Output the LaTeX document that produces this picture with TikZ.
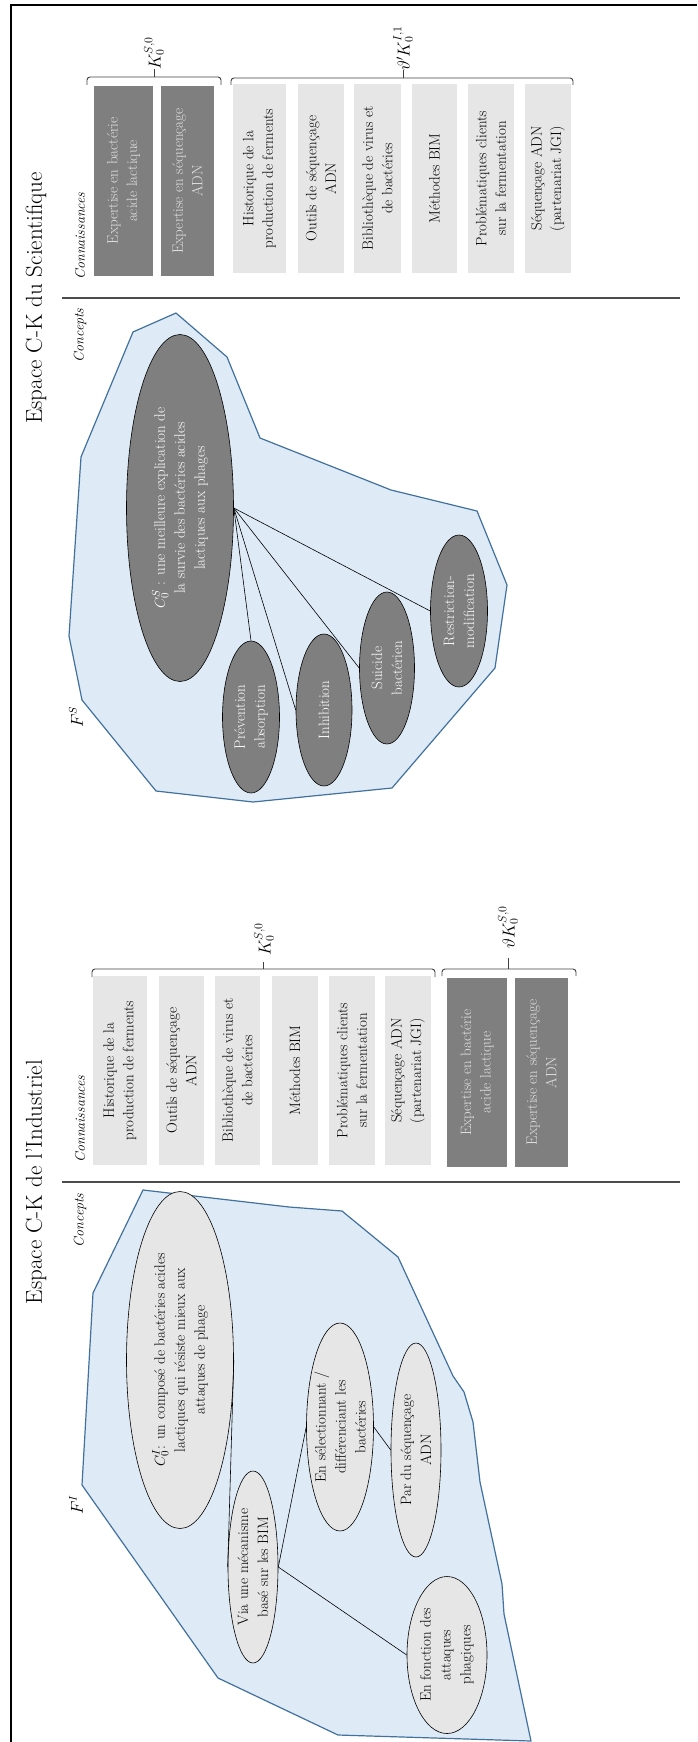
\documentclass[tikz,border=0pt]{standalone}
\usetikzlibrary{shapes.geometric}
\definecolor{fondbleu}{HTML}{DEEBF7}
\definecolor{bordbleu}{HTML}{41719C}
\definecolor{grisclair}{HTML}{E7E6E6}
\definecolor{grisfonce}{HTML}{7F7F7F}
\definecolor{textegris}{HTML}{E2E2E2}
\begin{document}
\begin{tikzpicture}[x=1pt,y=-1pt,
  boite/.style={rotate=90,fill=grisclair,minimum width=189pt,align=center,inner sep=0pt,font=\fontsize{15}{19.5}\selectfont},
  boitesombre/.style={boite,fill=grisfonce,text=textegris},
  ellclair/.style={rotate=90,ellipse,draw=black,line width=0.6pt,fill=grisclair,align=center,inner sep=-2pt,font=\fontsize{15}{20}\selectfont},
  ellsombre/.style={ellclair,fill=grisfonce,text=white},
  zone/.style={draw=bordbleu,fill=fondbleu,line width=1.2pt,line join=round},
  titre/.style={rotate=90,font=\fontsize{23}{27}\selectfont},
  rubrique/.style={rotate=90,font=\fontsize{14}{16}\selectfont\itshape},
  accolade/.style={draw=black!75,line width=0.9pt,rounded corners=3pt},
  etiquette/.style={rotate=90,anchor=west,inner sep=0pt,font=\fontsize{17}{20}\selectfont},
  lien/.style={draw=black,line width=0.6pt}]
\useasboundingbox (0,0) rectangle (697,1742);

\draw[line width=1.6pt] (11,1742) -- (11,5) -- (697,5);

\draw[zone] (176,313) -- (227,357) -- (260,438) -- (391,490) -- (477,511) -- (507,585)
  -- (495,668) -- (392,788) -- (253,802) -- (156,791) -- (82,700) -- (69,636)
  -- (81,457) -- (133,332) -- cycle;
\draw[zone] (143,1190) -- (289,1207) -- (342,1211) -- (398,1257) -- (453,1376) -- (464,1392)
  -- (473,1422) -- (480,1482) -- (502,1584) -- (504,1614) -- (531,1741) -- (338,1735)
  -- (218,1678) -- (82,1485) -- (93,1293) -- cycle;

\draw[line width=1.3pt,black!70] (62,298) -- (680,298);
\draw[line width=1.3pt,black!70] (62,1182) -- (680,1182);

\node[titre] (titreS) at (36,298) {Espace C-K du Scientifique};
\node[titre] (titreI) at (36,1182) {Espace C-K de l’Industriel};
\node[rubrique,anchor=west] (connS) at (80,283) {Connaissances};
\node[rubrique,anchor=east] (concS) at (80,305) {Concepts};
\node[rubrique,anchor=west] (connI) at (80,1166) {Connaissances};
\node[rubrique,anchor=east] (concI) at (80,1190) {Concepts};
\node[rotate=90,font=\fontsize{16}{18}\selectfont] (fS) at (76,717) {$F^S$};
\node[rotate=90,font=\fontsize{16}{18}\selectfont] (fI) at (76,1505) {$F^I$};

\node[boitesombre,minimum height=59pt] (expbS) at (123.5,181) {Expertise en bactérie\\acide lactique};
\node[boitesombre,minimum height=53pt] (expsS) at (187.5,181) {Expertise en séquençage\\ADN};
\node[boite,minimum height=53pt] (histS) at (259.5,178.5) {Historique de la\\production de ferments};
\node[boite,minimum height=46pt] (outS) at (321,178.5) {Outils de séquençage\\ADN};
\node[boite,minimum height=47pt] (bibS) at (377.5,178.5) {Bibliothèque de virus et\\de bactéries};
\node[boite,minimum height=45pt] (bimS) at (434.5,178.5) {Méthodes BIM};
\node[boite,minimum height=46pt] (probS) at (491,178.5) {Problématiques clients\\sur la fermentation};
\node[boite,minimum height=46pt] (seqS) at (548,178.5) {Séquençage ADN\\(partenariat JGI)};

\draw[accolade] (87,85) -- (87,77) -- (221,77) -- (221,85);
\draw[accolade] (231,85) -- (231,78) -- (573,78) -- (573,85);
\draw[black!75,line width=0.9pt] (154,77) -- (154,69);
\draw[black!75,line width=0.9pt] (403,78) -- (403,70);
\node[etiquette] (kS) at (154,70) {$K_0^{S,0}$};
\node[etiquette] (kpS) at (403,71) {$\vartheta' K_0^{I,1}$};

\node[boite,minimum height=54pt] (histI) at (120,1070.5) {Historique de la\\production de ferments};
\node[boite,minimum height=45pt] (outI) at (181.5,1070.5) {Outils de séquençage\\ADN};
\node[boite,minimum height=45pt] (bibI) at (237.5,1070.5) {Bibliothèque de virus et\\de bactéries};
\node[boite,minimum height=46pt] (bimI) at (295,1070.5) {Méthodes BIM};
\node[boite,minimum height=46pt] (probI) at (352,1070.5) {Problématiques clients\\sur la fermentation};
\node[boite,minimum height=46pt] (seqI) at (408,1070.5) {Séquençage ADN\\(partenariat JGI)};
\node[boitesombre,minimum height=60pt] (expbI) at (477,1072.5) {Expertise en bactérie\\acide lactique};
\node[boitesombre,minimum height=53pt] (expsI) at (541.5,1072.5) {Expertise en séquençage\\ADN};

\draw[accolade] (92,977) -- (92,969) -- (435,969) -- (435,977);
\draw[accolade] (442,976) -- (442,969) -- (576,969) -- (576,976);
\draw[black!75,line width=0.9pt] (263,969) -- (263,962);
\draw[black!75,line width=0.9pt] (508,969) -- (508,958);
\node[etiquette] (kI) at (264,956) {$K_0^{S,0}$};
\node[etiquette] (kpI) at (508,949) {$\vartheta K_0^{S,0}$};

\node[ellsombre,minimum width=347pt,minimum height=107pt] (c0s) at (180,508)
  {$C_0^S$ : une meilleure explication de\\la survie des bactéries acides\\lactiques aux phages};
\node[ellsombre,minimum width=152pt,minimum height=57pt] (prev) at (251,717) {Prévention\\absorption};
\node[ellsombre,minimum width=152pt,minimum height=56pt] (inhib) at (324,710) {Inhibition};
\node[ellsombre,minimum width=152pt,minimum height=55pt] (suic) at (387,668) {Suicide\\bactérien};
\node[ellsombre,minimum width=152pt,minimum height=57pt] (restr) at (459,611) {Restriction-\\modification};

\draw[lien] (c0s.south) -- (prev.east);
\draw[lien] (c0s.south) -- (inhib.north);
\draw[lien] (c0s.south) -- (suic.north);
\draw[lien] (c0s.south) -- (restr.north);

\node[ellclair,minimum width=337pt,minimum height=107pt] (c0i) at (180,1360)
  {$C_0^I$: un composé de bactéries acides\\lactiques qui résiste mieux aux\\attaques de phage};
\node[ellclair,minimum width=192pt,minimum height=50pt] (via) at (253,1567) {Via une mécanisme\\basé sur les BIM};
\node[ellclair,minimum width=208pt,minimum height=67pt] (sel) at (340,1427) {En sélectionnant /\\différenciant les\\bactéries};
\node[ellclair,minimum width=214pt,minimum height=50pt] (par) at (416,1450) {Par du séquençage\\ADN};
\node[ellclair,minimum width=157pt,minimum height=80pt] (fonc) at (447,1655) {En fonction des\\attaques\\phagiques};

\draw[lien] (c0i.south) -- (via.north);
\draw[lien] (via.south) -- (sel.north);
\draw[lien] (via.south) -- (fonc.north);
\draw[lien] (sel.south) -- (par.north);
\end{tikzpicture}
\end{document}
